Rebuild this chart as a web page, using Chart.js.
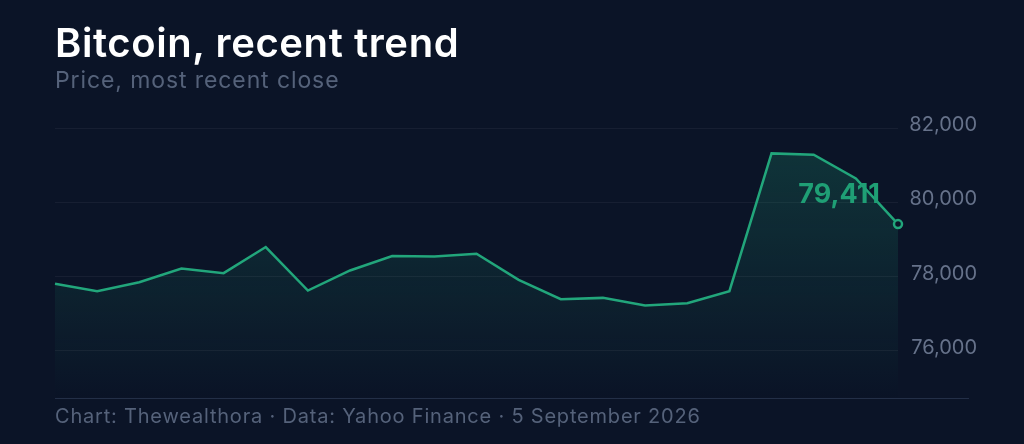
<!DOCTYPE html>
<html>
<head>
<meta charset="utf-8">
<script src="https://cdn.jsdelivr.net/npm/chart.js@4"></script>
<style>
  html, body { margin: 0; padding: 0; background: #0b1427; }
  #wrap { position: relative; width: 1024px; height: 444px; background: #0b1427; overflow: hidden; font-family: Inter, "Noto Sans", sans-serif; }
  #chart { position: absolute; left: 0; top: 0; }
  .title { position: absolute; left: 55px; top: 18px; color: #ffffff; font-size: 40px; font-weight: 600; letter-spacing: 0.6px; white-space: nowrap; }
  .subtitle { position: absolute; left: 55px; top: 66px; color: #55627a; font-size: 23px; letter-spacing: 0.9px; white-space: nowrap; }
  .rule { position: absolute; left: 55px; top: 398px; width: 914px; height: 0; border-top: 1.5px solid #232f47; }
  .footer { position: absolute; left: 55px; top: 404px; color: #55627a; font-size: 20px; letter-spacing: 0.8px; white-space: nowrap; }
</style>
</head>
<body>
<div id="wrap">
  <canvas id="chart" width="1024" height="444"></canvas>
  <div class="title">Bitcoin, recent trend</div>
  <div class="subtitle">Price, most recent close</div>
  <div class="rule"></div>
  <div class="footer">Chart: Thewealthora · Data: Yahoo Finance · 5 September 2026</div>
</div>
<script>
// data
const days = ['16 Aug', '17 Aug', '18 Aug', '19 Aug', '20 Aug', '21 Aug', '22 Aug',
              '23 Aug', '24 Aug', '25 Aug', '26 Aug', '27 Aug', '28 Aug', '29 Aug',
              '30 Aug', '31 Aug', '1 Sep', '2 Sep', '3 Sep', '4 Sep', '5 Sep'];
const closes = [77803, 77603, 77846, 78216, 78090, 78793, 77622,
                78162, 78550, 78541, 78613, 77910, 77390, 77424,
                77216, 77279, 77603, 81316, 81279, 80640, 79411];
const yTicks = [76000, 78000, 80000, 82000];

const lineColor = '#22a67b';
const bgColor = '#0b1427';

// label next to the last point
const lastLabel = {
    id: 'lastLabel',
    afterDatasetsDraw(chart) {
        const meta = chart.getDatasetMeta(0);
        const pt = meta.data[meta.data.length - 1];
        const v = closes[closes.length - 1];
        const ctx = chart.ctx;
        ctx.save();
        ctx.font = '700 27px Inter, "Noto Sans", sans-serif';
        ctx.fillStyle = '#1f9f75';
        ctx.textAlign = 'right';
        ctx.textBaseline = 'middle';
        ctx.fillText(v.toLocaleString('en-US'), pt.x - 18, pt.y - 29);
        ctx.restore();
    }
};

const ctx = document.getElementById('chart').getContext('2d');
new Chart(ctx, {
    type: 'line',
    data: {
        labels: days,
        datasets: [{
            data: closes,
            borderColor: lineColor,
            borderWidth: 2.5,
            tension: 0,
            fill: 'start',
            backgroundColor: (c) => {
                const area = c.chart.chartArea;
                if (!area) return 'rgba(34,166,123,0.1)';
                const g = c.chart.ctx.createLinearGradient(0, area.top, 0, area.bottom);
                g.addColorStop(0, 'rgba(34,166,123,0.24)');
                g.addColorStop(1, 'rgba(34,166,123,0.0)');
                return g;
            },
            pointRadius: (c) => c.dataIndex === closes.length - 1 ? 4 : 0,
            pointBorderWidth: 2.5,
            pointBorderColor: lineColor,
            pointBackgroundColor: bgColor
        }]
    },
    options: {
        responsive: false,
        animation: false,
        layout: {
            padding: { left: 55, right: 47, top: 128, bottom: 45 }
        },
        plugins: {
            legend: { display: false },
            tooltip: { enabled: false }
        },
        scales: {
            x: {
                display: false
            },
            y: {
                position: 'right',
                min: 74700,
                max: 82000,
                afterBuildTicks: (scale) => {
                    scale.ticks = yTicks.map(v => ({ value: v }));
                },
                afterFit: (scale) => {
                    scale.width = 79;
                },
                border: { display: false },
                grid: {
                    color: 'rgba(255,255,255,0.05)',
                    lineWidth: 1,
                    drawTicks: false
                },
                ticks: {
                    crossAlign: 'far',
                    labelOffset: -3,
                    color: '#66728a',
                    font: { family: 'Inter, "Noto Sans", sans-serif', size: 20 },
                    callback: (v) => v.toLocaleString('en-US')
                }
            }
        }
    },
    plugins: [lastLabel]
});
</script>
</body>
</html>
